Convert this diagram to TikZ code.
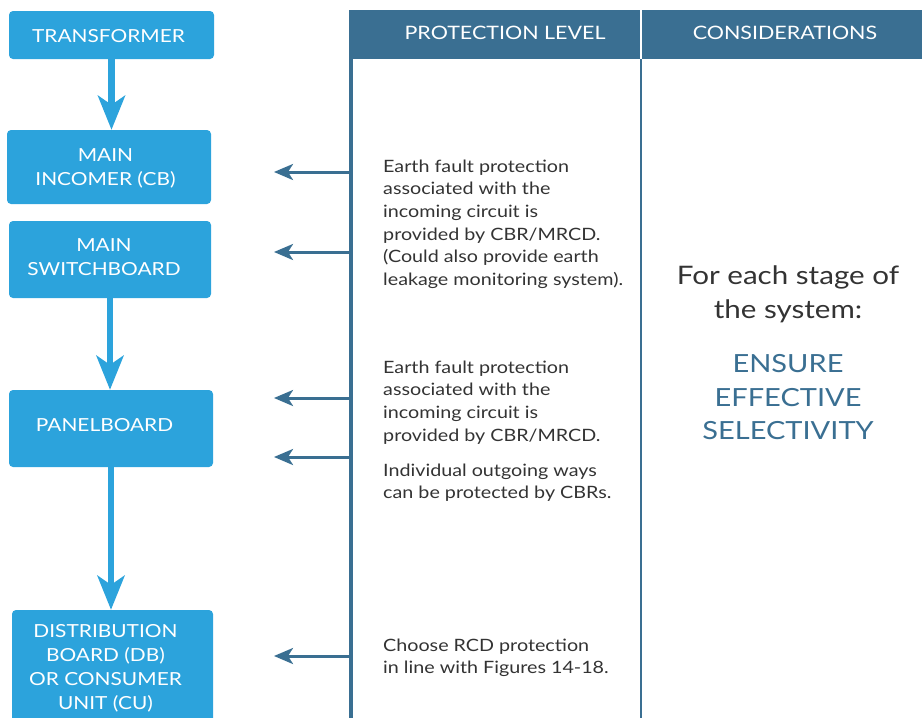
\documentclass[tikz,border=0pt]{standalone}
\usepackage{fontspec}
\setmainfont{Lato}[FakeStretch=1.16]
\usetikzlibrary{arrows.meta}
\definecolor{boxblue}{HTML}{2CA3DC}
\definecolor{hdrblue}{HTML}{3A6F92}
\definecolor{txtgray}{HTML}{333333}
\tikzset{
  x=1pt,y=-1pt,
  flowbox/.style={fill=boxblue,rounded corners=4pt,inner sep=0pt},
  boxtext/.style={text=white,align=center,inner sep=0pt,
    font=\fontsize{18}{24}\selectfont},
  flowarrow/.style={draw=boxblue,line width=6.5pt,
    -{Stealth[length=34pt,width=27pt,inset=9pt]}},
  levelarrow/.style={draw=hdrblue,line width=3pt,
    -{Stealth[length=19pt,width=16pt,inset=5pt]}},
  hdrtext/.style={text=white,font=\fontsize{18.5}{22}\selectfont,inner sep=0pt,anchor=base},
  bodytext/.style={text=txtgray,align=left,anchor=north west,inner sep=0pt,
    font=\fontsize{17}{22.6}\selectfont},
  bigtext/.style={text=txtgray,align=center,anchor=north,inner sep=0pt,
    font=\fontsize{25.5}{34}\selectfont},
  keytext/.style={text=hdrblue,align=center,anchor=north,inner sep=0pt,
    font=\fontsize{25}{33.5}\selectfont}
}
\begin{document}
\begin{tikzpicture}
\useasboundingbox (0,0) rectangle (922,718);
% header band
\fill[hdrblue] (349,10) rectangle (922,59);
\fill[white] (639.5,10) rectangle (642,59);
\node[hdrtext] (hprot) at (505,39) {PROTECTION LEVEL};
\node[hdrtext] (hcons) at (785,39) {CONSIDERATIONS};
% column lines
\coordinate (l0) at (351,59);
\coordinate (l1) at (351,718);
\draw[hdrblue,line width=3.5pt] (l0) -- (l1);
\coordinate (d0) at (641,59);
\coordinate (d1) at (641,718);
\draw[hdrblue,line width=2pt] (d0) -- (d1);
% flow boxes
\node[flowbox,minimum width=205pt,minimum height=48pt] (tr) at (111.5,35) {};
\node[flowbox,minimum width=204pt,minimum height=74pt] (inc) at (109,167) {};
\node[flowbox,minimum width=202pt,minimum height=77pt] (msb) at (110,259.5) {};
\node[flowbox,minimum width=204pt,minimum height=77pt] (pnl) at (111,428.5) {};
\node[flowbox,minimum width=201pt,minimum height=120pt] (db) at (112.5,670) {};
% box texts
\node[boxtext] (trt) at (108.5,36) {TRANSFORMER};
\node[boxtext] (inct) at (105.5,168) {MAIN\\INCOMER (CB)};
\node[boxtext] (msbt) at (104,257) {MAIN\\SWITCHBOARD};
\node[boxtext] (pnlt) at (104.5,425) {PANELBOARD};
\node[boxtext] (dbt) at (105.5,668) {DISTRIBUTION\\BOARD (DB)\\OR CONSUMER\\UNIT (CU)};
% flow arrows
\draw[flowarrow] (tr.south) -- (tr.south |- inc.north);
\draw[flowarrow] (msb.south) -- (msb.south |- pnl.north);
\draw[flowarrow] (pnl.south) -- (pnl.south |- db.north);
% level arrows
\foreach \n/\y in {a/172,b/252,c/398,d/457,e/656}{
  \coordinate (s\n) at (352,\y);
  \coordinate (t\n) at (274,\y);
  \draw[levelarrow] (s\n) -- (t\n);
}
% protection level texts
\node[bodytext] (p1) at (383,159.5) {Earth fault protection\\associated with the\\incoming circuit is\\provided by CBR/MRCD.\\(Could also provide earth\\leakage monitoring system).};
\node[bodytext] (p2) at (383,360.5) {Earth fault protection\\associated with the\\incoming circuit is\\provided by CBR/MRCD.};
\node[bodytext] (p3) at (383,463.5) {Individual outgoing ways\\can be protected by CBRs.};
\node[bodytext] (p4) at (383,638.5) {Choose RCD protection\\in line with Figures 14-18.};
% considerations
\node[bigtext] (c1) at (788,266) {For each stage of\\the system:};
\node[keytext] (c2) at (788,354.5) {ENSURE\\EFFECTIVE\\SELECTIVITY};
\end{tikzpicture}
\end{document}
